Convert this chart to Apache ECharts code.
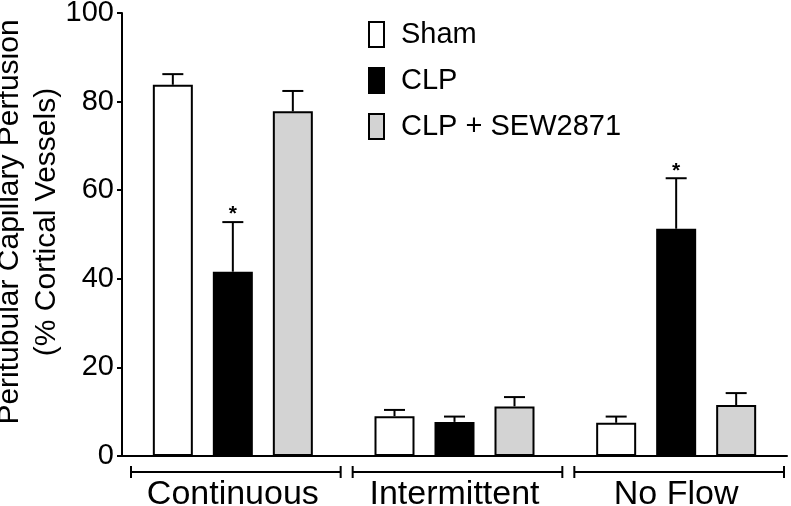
<!DOCTYPE html>
<html>
<head>
<meta charset="utf-8">
<script src="https://cdn.jsdelivr.net/npm/echarts@6/dist/echarts.min.js"></script>
<style>
html,body{margin:0;padding:0;background:#fff;}
#chart{width:791px;height:506px;}
</style>
</head>
<body>
<div id="chart"></div>
<script>
// ---- data ----
const categories = ['Continuous', 'Intermittent', 'No Flow'];
const groupNames = ['Sham', 'CLP', 'CLP + SEW2871'];
const shamMean = [83.8, 9.0, 7.5];
const shamSem  = [2.4, 1.4, 1.4];
const clpMean  = [41.6, 7.7, 51.3];
const clpSem   = [11.2, 1.2, 11.4];
const sewMean  = [77.8, 11.2, 11.5];
const sewSem   = [4.6, 2.1, 2.7];
const clpStar  = [1, 0, 1];
const yTicks   = [0, 20, 40, 60, 80, 100];
const yTitle1  = 'Peritubular Capillary Perfusion';
const yTitle2  = '(% Cortical Vessels)';

// ---- style ----
const FONT = '"Liberation Sans", Arial, Helvetica, sans-serif';
const BAR_W = 40, BAR_GAP = 0.5;
const STEP = BAR_W * (1 + BAR_GAP);
const fills = ['#ffffff', '#000000', '#d3d3d3'];

const means = [shamMean, clpMean, sewMean];
const sems = [shamSem, clpSem, sewSem];
const stars = [[0,0,0], clpStar, [0,0,0]];

const errData = [];
for (let s = 0; s < 3; s++) {
  for (let c = 0; c < categories.length; c++) {
    errData.push([c, means[s][c], sems[s][c], s, stars[s][c]]);
  }
}

const chart = echarts.init(document.getElementById('chart'), null, {renderer: 'canvas'});

const barSeries = groupNames.map((name, i) => ({
  name: name,
  type: 'bar',
  data: means[i],
  barWidth: BAR_W,
  barGap: (BAR_GAP * 100) + '%',
  itemStyle: { color: fills[i], borderColor: '#000', borderWidth: 2 },
  emphasis: { disabled: true },
  z: 2
}));

const option = {
  animation: false,
  backgroundColor: '#fff',
  textStyle: { fontFamily: FONT },
  grid: { left: 122, right: 4, top: 13, bottom: 50, containLabel: false, outerBoundsMode: 'none' },
  legend: {
    orient: 'vertical',
    left: 368,
    top: 20,
    padding: 0,
    itemWidth: 15,
    itemHeight: 25,
    itemGap: 17,
    icon: 'rect',
    selectedMode: false,
    data: groupNames,
    itemStyle: { borderColor: '#000', borderWidth: 2 },
    textStyle: { fontSize: 29, color: '#000', fontFamily: FONT, padding: [0, 0, 0, 12] }
  },
  xAxis: {
    type: 'category',
    data: categories,
    axisLine: { lineStyle: { color: '#000', width: 2 } },
    axisTick: { show: false },
    axisLabel: { fontSize: 34, color: '#000', fontFamily: FONT, margin: 22, interval: 0, hideOverlap: false },
    splitLine: { show: false }
  },
  yAxis: {
    type: 'value',
    min: yTicks[0],
    max: yTicks[yTicks.length - 1],
    interval: yTicks[1] - yTicks[0],
    axisLine: { show: true, lineStyle: { color: '#000', width: 2 } },
    axisTick: { show: true, length: 5, lineStyle: { color: '#000', width: 2 } },
    axisLabel: { fontSize: 29, color: '#000', fontFamily: FONT, margin: 8 },
    splitLine: { show: false }
  },
  graphic: [
    {
      type: 'text', x: 10, y: 222, rotation: Math.PI / 2,
      style: { text: yTitle1, font: '30px ' + FONT, fill: '#000', align: 'center', verticalAlign: 'middle' }
    },
    {
      type: 'text', x: 47, y: 222, rotation: Math.PI / 2,
      style: { text: yTitle2, font: '30px ' + FONT, fill: '#000', align: 'center', verticalAlign: 'middle' }
    }
  ],
  series: barSeries.concat([
    {
      type: 'custom',
      name: 'err',
      data: errData,
      encode: { x: 0, y: 1 },
      z: 3,
      silent: true,
      renderItem: function (params, api) {
        const c = api.value(0), m = api.value(1), e = api.value(2), s = api.value(3), st = api.value(4);
        const base = api.coord([c, m]);
        const top = api.coord([c, m + e]);
        const x = base[0] + (s - 1) * STEP;
        const children = [
          { type: 'line', shape: { x1: x, y1: base[1], x2: x, y2: top[1] }, style: { stroke: '#000', lineWidth: 2 } },
          { type: 'line', shape: { x1: x - 10.5, y1: top[1], x2: x + 10.5, y2: top[1] }, style: { stroke: '#000', lineWidth: 2 } }
        ];
        if (st) {
          children.push({ type: 'text', x: x, y: top[1] - 18, style: { text: '*', font: 'bold 21px ' + FONT, fill: '#000', align: 'center', verticalAlign: 'top' } });
        }
        return { type: 'group', children: children };
      }
    },
    {
      type: 'custom',
      name: 'brackets',
      data: categories.map((c, i) => [i, 0]),
      encode: { x: 0, y: 1 },
      clip: false,
      silent: true,
      renderItem: function (params, api) {
        const p = api.coord([api.value(0), 0]);
        const band = api.size([1, 0])[0];
        const x1 = p[0] - band / 2 + 9, x2 = p[0] + band / 2 - 3, y = p[1] + 16;
        return {
          type: 'group',
          children: [
            { type: 'line', shape: { x1: x1, y1: y, x2: x2, y2: y }, style: { stroke: '#000', lineWidth: 2 } },
            { type: 'line', shape: { x1: x1, y1: y - 6, x2: x1, y2: y + 6 }, style: { stroke: '#000', lineWidth: 2 } },
            { type: 'line', shape: { x1: x2, y1: y - 6, x2: x2, y2: y + 6 }, style: { stroke: '#000', lineWidth: 2 } }
          ]
        };
      }
    }
  ])
};
chart.setOption(option);
</script>
</body>
</html>
